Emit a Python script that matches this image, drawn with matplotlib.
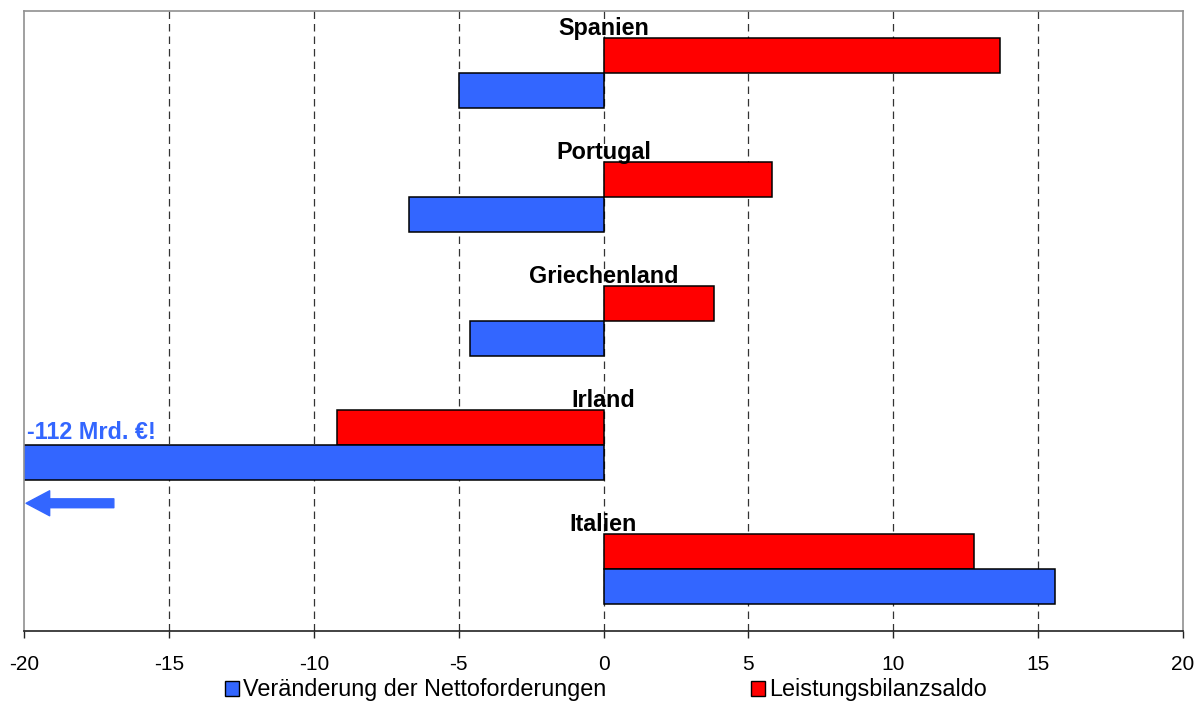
#!/usr/bin/env python3
# -*- coding: utf-8 -*-
from matplotlib import pyplot as plt
from matplotlib.patches import Patch
import numpy as np

# data (Mrd. EUR)
laender = ['Spanien', 'Portugal', 'Griechenland', 'Irland', 'Italien']
nettoforderungen = [-5.0, -6.7, -4.6, -112.0, 15.6]
leistungsbilanz = [13.7, 5.8, 3.8, -9.2, 12.8]
x_ticks = [-20, -15, -10, -5, 0, 5, 10, 15, 20]
legend_labels = ['Veränderung der Nettoforderungen', 'Leistungsbilanzsaldo']
hinweis = '-112 Mrd. €!'

BLUE = '#3366FF'
RED = '#FF0000'

plt.rcParams['font.family'] = ['Liberation Sans', 'DejaVu Sans']

fig = plt.figure(figsize=(12.01, 7.04), dpi=100)
ax = fig.add_axes([0.02, 0.1037, 0.965, 0.8807])

y = np.arange(len(laender))
h = 0.283

# grid behind the bars
for xv in x_ticks[1:-1]:
    ax.axvline(xv, color='#333333', lw=0.9, dashes=(6, 4), zorder=1)

ax.barh(y - h / 2, leistungsbilanz, height=h, color=RED, edgecolor='black',
        linewidth=1.1, zorder=2)
ax.barh(y + h / 2, nettoforderungen, height=h, color=BLUE, edgecolor='black',
        linewidth=1.1, zorder=2)

for yi, name in zip(y, laender):
    ax.text(0, yi - 0.305, name, ha='center', va='baseline', fontsize=16.8,
            fontweight='bold', zorder=3)

ax.set_xlim(x_ticks[0], x_ticks[-1])
ax.set_ylim(len(laender) - 0.5, -0.5)
ax.set_xticks(x_ticks)
ax.set_xticklabels([str(t) for t in x_ticks], fontsize=15)
ax.set_yticks([])
ax.tick_params(axis='x', direction='out', length=5, width=1, pad=12,
               color='#222222')

for side in ['top', 'left', 'right']:
    ax.spines[side].set_color('#909090')
    ax.spines[side].set_linewidth(1.2)
ax.spines['bottom'].set_color('#222222')
ax.spines['bottom'].set_linewidth(1.2)

# Irland is off the scale
ax.text(-19.9, 2.955, hinweis, color=BLUE, fontsize=16.8,
        fontweight='bold', ha='left', va='baseline', zorder=3)
ax.annotate('', xy=(-19.93, 3.47), xytext=(-16.9, 3.47),
            arrowprops=dict(arrowstyle='simple,head_length=0.85,head_width=0.9,tail_width=0.32',
                            color=BLUE, shrinkA=0, shrinkB=0, mutation_scale=20))

handles = [Patch(facecolor=BLUE, edgecolor='black', linewidth=1.0),
           Patch(facecolor=RED, edgecolor='black', linewidth=1.0)]
fig.legend(handles, legend_labels, loc='center', bbox_to_anchor=(0.5046, 0.02),
           ncol=2, frameon=False, fontsize=16.8, handlelength=0.6,
           handleheight=0.6, handletextpad=0.17, columnspacing=6.2,
           borderpad=0, borderaxespad=0)

fig.savefig('out.png', dpi=100)
